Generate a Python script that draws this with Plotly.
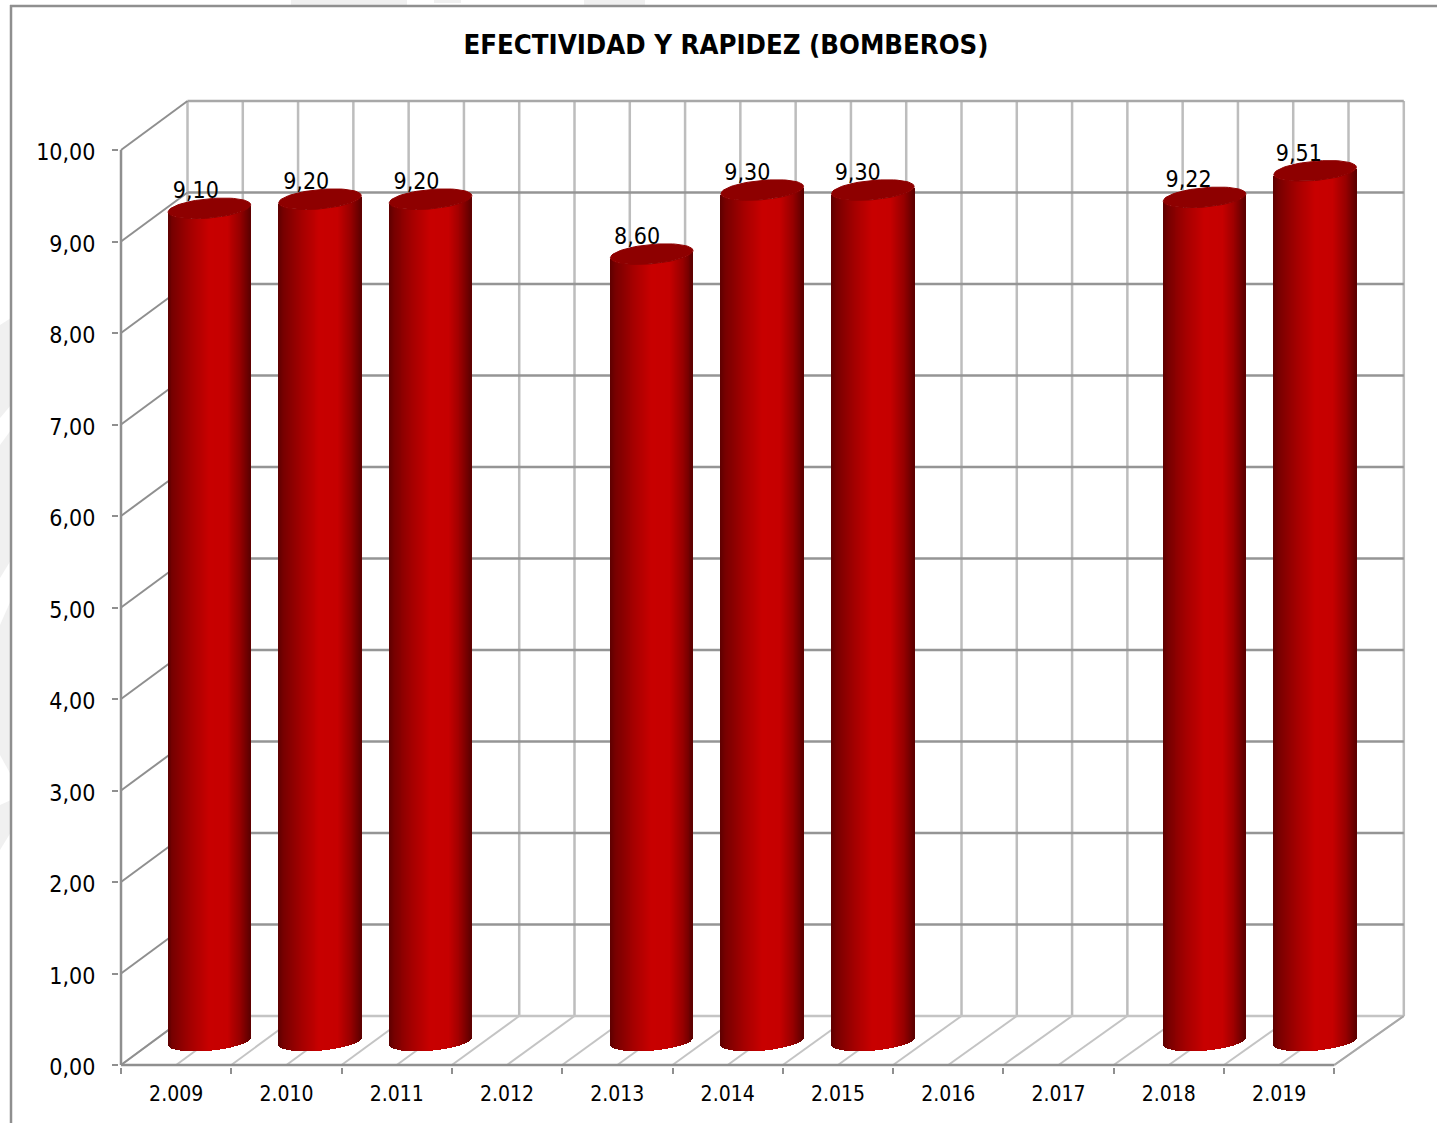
import math
import plotly.graph_objects as go

# Scores per year; years without a score stay empty
years = ["2.009", "2.010", "2.011", "2.012", "2.013", "2.014", "2.015", "2.016", "2.017", "2.018", "2.019"]
scores = [9.10, 9.20, 9.20, None, 8.60, 9.30, 9.30, None, None, 9.22, 9.51]
score_labels = ["9,10", "9,20", "9,20", None, "8,60", "9,30", "9,30", None, None, "9,22", "9,51"]
value_ticks = list(range(0, 11))

TITLE = "EFECTIVIDAD Y RAPIDEZ (BOMBEROS)"
FONT = "DejaVu Sans Condensed, DejaVu Sans, sans-serif"

W, H = 1437, 1123
# Pixel box of the plot area, with a small pad around the 3D box so its edge lines stay whole
LEFT, RIGHT, TOP, BOTTOM = 119, 1406, 99, 1067
ORIGIN_X, ORIGIN_Y = 121, 1065
PX_X = 110.3      # pixels per category
PX_Y = 91.5       # pixels per value unit

# Oblique projection: the back wall sits up and to the right of the front plane,
# and is very slightly wider than the front edge
DEPTH_X = 66.5 / PX_X
DEPTH_Y = 49 / PX_Y
BACK_SCALE = 1.00247
X0 = -0.5
X1 = X0 + len(years)
RANGE_X = [X0 + (LEFT - ORIGIN_X) / PX_X, X0 + (RIGHT - ORIGIN_X) / PX_X]
RANGE_Y = [(ORIGIN_Y - BOTTOM) / PX_Y, (ORIGIN_Y - TOP) / PX_Y]


def back_x(x):
    return X0 + DEPTH_X + (x - X0) * BACK_SCALE


# Cylinder cross-section, an ellipse sheared along the depth direction
AX, BX, BY = 38.7 / PX_X, 14.4 / PX_X, 10.3 / PX_Y
RX = math.hypot(AX, BX)
PHI = math.atan2(BX, AX)
CX = DEPTH_X / 2
CY = 24.0 / PX_Y

GRAD = [(0.00, (92, 0, 0)), (0.06, (118, 0, 0)), (0.28, (164, 0, 0)), (0.50, (200, 0, 0)),
        (0.72, (198, 0, 0)), (0.88, (150, 0, 0)), (0.96, (112, 0, 0)), (1.00, (92, 0, 0))]


def shade(t):
    for (a, ca), (b, cb) in zip(GRAD, GRAD[1:]):
        if t <= b:
            f = (t - a) / (b - a)
            return "rgb(%d,%d,%d)" % tuple(round(p + (q - p) * f) for p, q in zip(ca, cb))
    return "rgb(92,0,0)"


def px_x(p):
    return (p - LEFT) / (RIGHT - LEFT)


def px_y(p):
    return (BOTTOM - p) / (BOTTOM - TOP)


fig = go.Figure()


def line(xs, ys, color, width):
    fig.add_trace(go.Scatter(x=xs, y=ys, mode="lines", line=dict(color=color, width=width),
                             hoverinfo="skip", showlegend=False))


WALL_H = "#959595"
WALL_V = "#bdbdbd"
EDGE = "#8f8f8f"

# Back wall and floor grid, every half category
n_half = 2 * len(years) + 1
for k in range(n_half):
    x = X0 + k / 2
    line([back_x(x)] * 2, [DEPTH_Y, 10 + DEPTH_Y], WALL_V, 2.5)
    line([x, back_x(x)], [0, DEPTH_Y], "#c4c4c4", 2)

# Back wall horizontals and left wall diagonals
for v in value_ticks:
    line([back_x(X0), back_x(X1)], [v + DEPTH_Y] * 2,
         "#c4c4c4" if v == 0 else ("#a8a8a8" if v == 10 else WALL_H), 2.6)
    line([X0, back_x(X0)], [v, v + DEPTH_Y], EDGE, 2)

# Front axis edges and the right edge of the floor
line([X0, X0], [0, 10], EDGE, 2.5)
line([X0, X1], [0, 0], EDGE, 2.5)
line([X1, back_x(X1)], [0, DEPTH_Y], "#a8a8a8", 2)

# Cylinder bodies sit on an overlaid axis pair so they cover the grid.
# Narrow overlaid bars give the horizontal shading, and their bases
# follow the front arc of the cross-section.
idx = [i for i, v in enumerate(scores) if v is not None]
vals = [scores[i] for i in idx]
centers = [i * BACK_SCALE + CX for i in idx]
STRIPS = 84
for s in range(STRIPS):
    t = (s + 0.5) / STRIPS
    u = 2 * t - 1
    dx = u * RX
    arc = BY * math.sin(PHI - math.acos(u))
    fig.add_trace(go.Bar(x=[c + dx for c in centers], y=vals, base=CY + arc,
                         width=2.2 * RX / STRIPS, xaxis="x2", yaxis="y2",
                         marker=dict(color=shade(t), line=dict(width=0)),
                         hoverinfo="skip", showlegend=False))

# Cylinder caps
cap_x, cap_y = [], []
for c, v in zip(centers, vals):
    for a in range(73):
        th = math.radians(a * 5)
        cap_x.append(c + AX * math.cos(th) + BX * math.sin(th))
        cap_y.append(v + CY + BY * math.sin(th))
    cap_x.append(None)
    cap_y.append(None)
fig.add_trace(go.Scatter(x=cap_x, y=cap_y, mode="lines", fill="toself", fillcolor="#8e0000",
                         xaxis="x2", yaxis="y2",
                         line=dict(width=1, color="#8e0000"), hoverinfo="skip", showlegend=False))

# Value labels
fig.add_trace(go.Scatter(
    x=[i + CX - 13.5 / PX_X for i in idx],
    y=[v + CY + 16 / PX_Y for v in vals],
    xaxis="x2", yaxis="y2",
    mode="text", text=[score_labels[i] for i in idx], textposition="middle center",
    textfont=dict(family=FONT, size=23, color="#000000"),
    cliponaxis=False, hoverinfo="skip", showlegend=False))

# Chart frame and the faint marks outside it
shapes = []
for pts in ([(0, 325), (11, 318), (11, 405), (0, 418)],
            [(0, 445), (11, 430), (11, 560), (0, 578)],
            [(0, 625), (11, 600), (11, 775), (0, 755)],
            [(0, 805), (11, 800), (11, 832), (0, 850)],
            [(291, 0), (407, 0), (407, 5), (291, 5)],
            [(434, 0), (461, 0), (461, 3), (434, 3)],
            [(584, 0), (645, 0), (645, 5), (584, 5)]):
    path = "M " + " L ".join(f"{px_x(a)},{px_y(b)}" for a, b in pts) + " Z"
    shapes.append(dict(type="path", xref="paper", yref="paper", path=path, layer="below",
                       fillcolor="#f0f0f0", line=dict(width=0)))
shapes.append(dict(type="line", xref="paper", yref="paper", x0=px_x(11), x1=px_x(11),
                   y0=px_y(5), y1=px_y(H), line=dict(color="#8f8f8f", width=2.5), layer="below"))
shapes.append(dict(type="line", xref="paper", yref="paper", x0=px_x(10), x1=px_x(W),
                   y0=px_y(6), y1=px_y(6), line=dict(color="#8f8f8f", width=2.5), layer="below"))

fig.update_layout(
    width=W, height=H,
    margin=dict(l=LEFT, r=W - RIGHT, t=TOP, b=H - BOTTOM, pad=0),
    paper_bgcolor="#ffffff", plot_bgcolor="rgba(0,0,0,0)",
    barmode="overlay", bargap=0, separators=",.",
    showlegend=False, shapes=shapes,
    title=dict(text=f"<b>{TITLE}</b>", x=726 / W, xanchor="center", y=1 - 44 / H, yanchor="middle",
               font=dict(family=FONT, size=27.3, color="#000000")),
    xaxis=dict(range=RANGE_X, tickmode="array",
               tickvals=list(range(len(years))), ticktext=years,
               ticks="outside", ticklen=0, tickwidth=0, showgrid=False, zeroline=False,
               showline=False, ticklabelstandoff=8,
               tickfont=dict(family=FONT, size=21, color="#000000"),
               minor=dict(ticks="outside", ticklen=6, tickwidth=2, tickcolor=EDGE,
                          tick0=X0, dtick=1, showgrid=False)),
    yaxis=dict(range=RANGE_Y, tickmode="array",
               tickvals=value_ticks, tickformat=".2f",
               ticks="outside", ticklen=6, tickwidth=2, tickcolor=EDGE,
               showgrid=False, zeroline=False, showline=False, ticklabelstandoff=12,
               ticklabelshift=2,
               tickfont=dict(family=FONT, size=23, color="#000000")),
    xaxis2=dict(range=RANGE_X, overlaying="x", visible=False),
    yaxis2=dict(range=RANGE_Y, overlaying="y", visible=False),
)

fig.write_html("out.html", config=dict(displayModeBar=False))
